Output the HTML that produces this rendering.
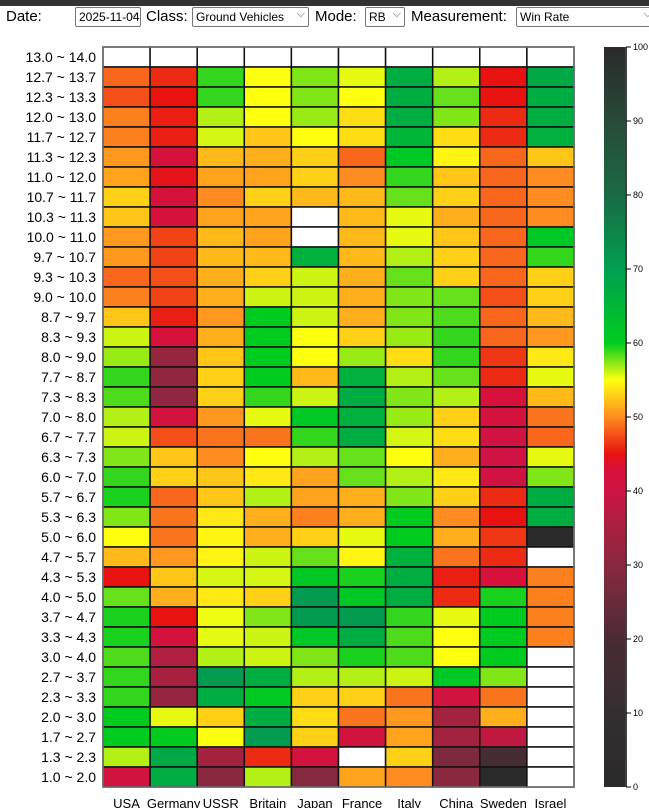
<!DOCTYPE html>
<html><head><meta charset="utf-8"><style>
body{margin:0;width:649px;height:808px;overflow:hidden;background:#fff;font-family:"Liberation Sans",sans-serif;position:relative}
#topbar{position:absolute;left:0;top:0;width:649px;height:6px;background:#333;z-index:2}
#controls{position:absolute;left:6px;top:7px;font-size:15px;white-space:nowrap;z-index:2}
.lbl{position:absolute;top:1px}
.sel{position:absolute;top:0;border:1px solid #767676;border-radius:2px;font-size:12px;line-height:18px;padding-left:3px;box-sizing:border-box;height:20px;overflow:hidden;background:#fff}
.sel:after{content:"⌵";position:absolute;right:3px;top:-3px;font-size:11px;color:#555}
</style></head><body>
<div id="topbar"></div>
<div id="controls">
<span class="lbl" style="left:0">Date:</span>
<div class="sel" style="left:69px;width:66px">2025-11-04</div>
<span class="lbl" style="left:140px">Class:</span>
<div class="sel" style="left:186px;width:117px">Ground Vehicles</div>
<span class="lbl" style="left:309px">Mode:</span>
<div class="sel" style="left:359px;width:40px">RB</div>
<span class="lbl" style="left:405px">Measurement:</span>
<div class="sel" style="left:510px;width:140px">Win Rate</div>
</div>
<svg id="chart" width="649" height="808" style="position:absolute;left:0;top:0"></svg>
<script>
const nations=["USA","Germany","USSR","Britain","Japan","France","Italy","China","Sweden","Israel"];
const brackets=["13.0 ~ 14.0","12.7 ~ 13.7","12.3 ~ 13.3","12.0 ~ 13.0","11.7 ~ 12.7","11.3 ~ 12.3","11.0 ~ 12.0","10.7 ~ 11.7","10.3 ~ 11.3","10.0 ~ 11.0","9.7 ~ 10.7","9.3 ~ 10.3","9.0 ~ 10.0","8.7 ~ 9.7","8.3 ~ 9.3","8.0 ~ 9.0","7.7 ~ 8.7","7.3 ~ 8.3","7.0 ~ 8.0","6.7 ~ 7.7","6.3 ~ 7.3","6.0 ~ 7.0","5.7 ~ 6.7","5.3 ~ 6.3","5.0 ~ 6.0","4.7 ~ 5.7","4.3 ~ 5.3","4.0 ~ 5.0","3.7 ~ 4.7","3.3 ~ 4.3","3.0 ~ 4.0","2.7 ~ 3.7","2.3 ~ 3.3","2.0 ~ 3.0","1.7 ~ 2.7","1.3 ~ 2.3","1.0 ~ 2.0"];
const N=null;
const winRates=[
[N,N,N,N,N,N,N,N,N,N],
[48.5,46,59,55,57.5,55.5,67,56.5,45,68],
[47.5,45,59,55,57.5,55,67,58,45,67],
[49.5,45.5,56.5,55,57,53.5,67,57.5,46,67],
[49.5,45.5,55.8,52.5,55,53.5,65,53.5,46,66],
[50.5,42,52,51.5,53,48.5,61,54.5,48.5,52.5],
[51,44.5,51,51,53,50,59,52.5,48.5,50],
[53,42,50,53,52,52,58,53,48.5,50],
[52.5,42,51,51,N,52,55.5,51.5,48.5,50],
[50.5,47,52,51,N,52,55.5,52.5,48.5,61],
[50.5,47,52,52,66,52,56.5,53,48.5,59],
[48.5,47.5,51.5,53,56,51.5,58,53,48.5,53],
[49.5,47,51.5,56,56,51.5,57.5,58,47.5,53],
[52.5,45.5,50.5,60,56,51.5,57.5,58.5,48.5,52],
[56,42,51.5,60,55,53,57,59,48.5,50.5],
[57,32,52.5,60,55,57,53.5,59,46.5,54],
[59,31,53,60,52,66,56.5,58,46,55.5],
[58.5,31,53,59,56,67,57.5,56.5,42,52],
[56.5,41.5,50.5,55.5,61,66,57,53,41.5,49],
[56,47.5,49,49,59,67,55.8,53.5,40.5,48.5],
[57.5,52.5,50,55,56.5,58,55,51.5,40.5,55.5],
[59,53,52.5,54,51,58,56.5,54,40.5,57.5],
[59.5,48.5,52.5,56.5,51,51.5,57.5,53,46,67],
[57.5,49,54,51.5,49.5,51.5,60,50,45,67],
[55,49,54.5,51.5,53,55.5,60,51.5,46.5,0],
[52,50.5,54.5,56,58,54.5,66,49,46,N],
[45,52.5,55.8,55.8,61,59.5,67,45.5,42,49.5],
[58,51.5,54,53,71,61,67,46,59.5,49.5],
[59.5,45,55.3,57.5,71,71,59,55.5,60,49.5],
[59.5,41.5,55.5,56,61,67,58.5,55,60,49.5],
[58.5,36,56.5,56,57.5,59.5,58.5,55,60,N],
[59,35,71,67,56.5,56.5,56,61,57.5,N],
[59,32,67,60.5,53,53,49,41,49,N],
[60,55.5,53,67,53.5,49,50.5,34,51.5,N],
[60,60,55,71,53,41,51,34,38,N],
[56.5,68,34,46,41.5,N,53,28,18,N],
[41,67,30,56.5,29,51,50,30,2,N]
];
const colorTicks=[0,10,20,30,40,50,60,70,80,90,100];

const stops=[[0,[42,42,42]],[10,[52,46,48]],[20,[74,44,52]],[30,[138,40,64]],[35,[168,32,64]],[40,[206,20,68]],[43,[216,16,56]],[45,[232,18,16]],[50,[255,140,32]],[55,[255,255,16]],[60,[0,204,32]],[70,[0,160,80]],[80,[26,106,69]],[90,[40,74,56]],[100,[42,42,42]]];
function color(v){
  for(let i=0;i<stops.length-1;i++){const a=stops[i],b=stops[i+1];
    if(v<=b[0]){const t=(v-a[0])/(b[0]-a[0]);return 'rgb('+a[1].map((c,k)=>Math.round(c+(b[1][k]-c)*t)).join(',')+')';}}
  return 'rgb(42,42,42)';
}
const svg=document.getElementById('chart');const NS='http://www.w3.org/2000/svg';
function mk(tag,attrs){const e=document.createElementNS(NS,tag);for(const k in attrs)e.setAttribute(k,attrs[k]);svg.appendChild(e);return e;}
const x0=103,y0=47,cw=47.1,ch=20;
function xs(i){return x0+i*cw;}
function ys(j){return y0+j*ch;}
winRates.forEach((row,j)=>{
  row.forEach((v,i)=>{
    const r=mk('rect',{x:xs(i),y:ys(j),width:cw,height:ch,fill:v===null?'#fff':color(v),stroke:'#111','stroke-width':1.5});
    
    
  });
});
const ob=mk('rect',{x:x0,y:y0,width:cw*nations.length,height:ch*brackets.length,fill:'none',stroke:'#777','stroke-width':1.5});


brackets.forEach((b,j)=>{
  const t=mk('text',{x:96,y:ys(j)+15,'text-anchor':'end','font-size':14,fill:'#000'});t.textContent=b;
  
  
});
nations.forEach((n,i)=>{
  const t=mk('text',{x:xs(i)+cw/2,y:808,'text-anchor':'middle','font-size':13,fill:'#000'});t.textContent=n;
  
  
});
const cbx=604,cbw=21,cbTop=47,cbBot=787;
function cy(v){return cbBot-(v/100)*(cbBot-cbTop);}
const defs=mk('defs',{});const g=document.createElementNS(NS,'linearGradient');
g.setAttribute('id','cb');g.setAttribute('x1','0');g.setAttribute('y1','1');g.setAttribute('x2','0');g.setAttribute('y2','0');defs.appendChild(g);
stops.forEach(s=>{const st=document.createElementNS(NS,'stop');st.setAttribute('offset',s[0]+'%');st.setAttribute('stop-color',color(s[0]));g.appendChild(st);});
const cb=mk('rect',{x:cbx,y:cbTop,width:cbw,height:cbBot-cbTop,fill:'url(#cb)'});


mk('line',{x1:cbx+cbw+1,y1:cbTop,x2:cbx+cbw+1,y2:cbBot,stroke:'#000','stroke-width':1.5});
colorTicks.forEach(v=>{
  mk('line',{x1:cbx+cbw+1,y1:cy(v),x2:cbx+cbw+6,y2:cy(v),stroke:'#000','stroke-width':1});
  const t=mk('text',{x:cbx+cbw+8,y:cy(v)+3,'font-size':9,fill:'#000'});t.textContent=v;
  
  
});
</script>
</body></html>
